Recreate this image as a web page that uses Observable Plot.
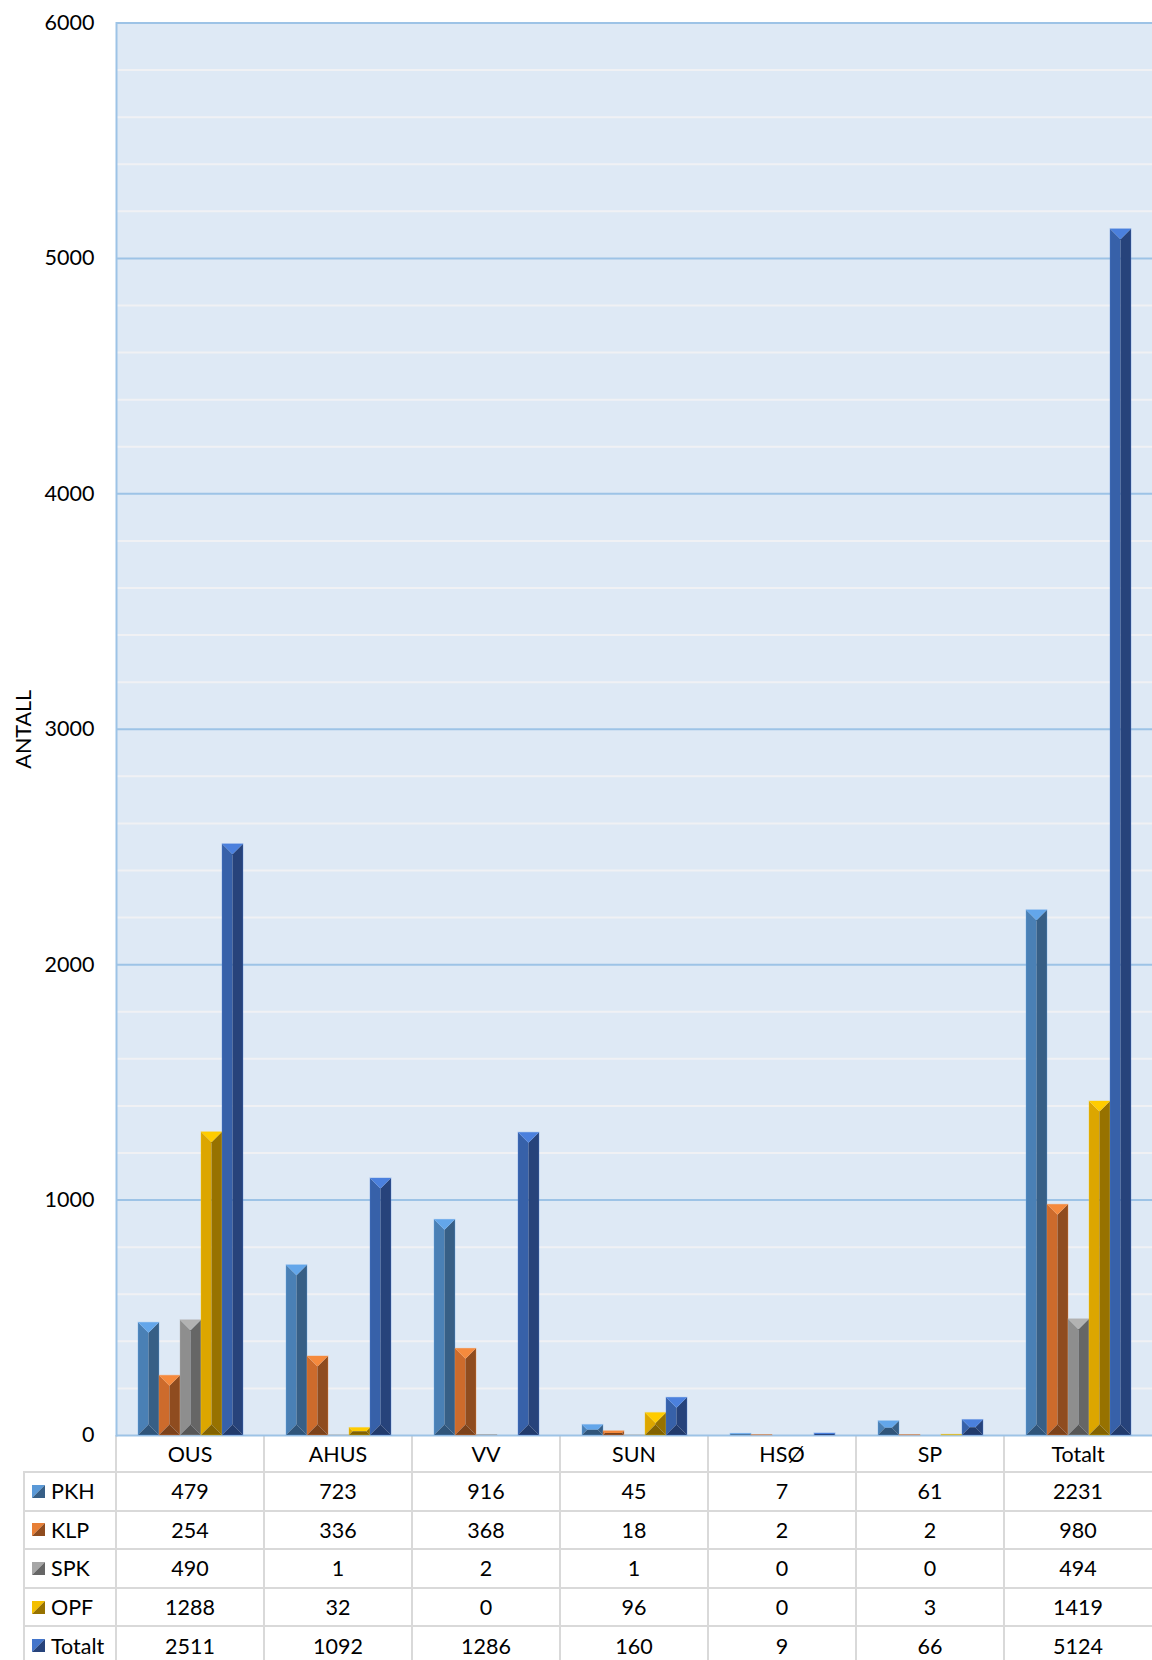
<!DOCTYPE html>
<html>
<head>
<meta charset="utf-8">
<script src="https://cdn.jsdelivr.net/npm/d3@7"></script>
<script src="https://cdn.jsdelivr.net/npm/@observablehq/plot@0.6"></script>
<style>
  html, body { margin: 0; padding: 0; background: #fff; }
  #wrap { position: relative; width: 1152px; height: 1660px; overflow: hidden; font-family: Lato, "Open Sans", sans-serif; color: #000; }
  #wrap > svg { display: block; overflow: visible; position: relative; z-index: 2; }
  .cell { position: absolute; display: flex; align-items: center; justify-content: center; font-size: 21.5px; color: #000; white-space: nowrap; }
  .line { position: absolute; background: #d9d9d9; }
  .leg { justify-content: flex-start; }
  .leg svg { margin-left: 8px; margin-right: 6px; }
</style>
</head>
<body>
<div id="wrap"></div>
<script>
// ---- data ----
const categories = ["OUS", "AHUS", "VV", "SUN", "HSØ", "SP", "Totalt"];
const seriesNames = ["PKH", "KLP", "SPK", "OPF", "Totalt"];
const PKH    = [479, 723, 916, 45, 7, 61, 2231];
const KLP    = [254, 336, 368, 18, 2, 2, 980];
const SPK    = [490, 1, 2, 1, 0, 0, 494];
const OPF    = [1288, 32, 0, 96, 0, 3, 1419];
const Totalt = [2511, 1092, 1286, 160, 9, 66, 5124];
const yTicks = [0, 1000, 2000, 3000, 4000, 5000, 6000];
const yMinor = [200, 400, 600, 800, 1200, 1400, 1600, 1800, 2200, 2400, 2600, 2800, 3200, 3400, 3600, 3800, 4200, 4400, 4600, 4800, 5200, 5400, 5600, 5800];
const yLabel = "ANTALL";

// ---- styles (bevelled bar faces) ----
const faceTop    = ["#63a6ea", "#f58a3d", "#b2b2b2", "#ffcc00", "#4b80dd"];
const faceLeft   = ["#4a80b5", "#cd6b2c", "#8e8e8e", "#dca600", "#3761a9"];
const faceRight  = ["#375f86", "#8f4c1f", "#666666", "#977200", "#27437b"];
const faceBottom = ["#30557a", "#7c421b", "#575757", "#836300", "#223b6c"];

const seriesValues = [PKH, KLP, SPK, OPF, Totalt];
const data = [];
categories.forEach((c, ci) => {
  seriesNames.forEach((s, si) => {
    data.push({category: c, series: s, value: seriesValues[si][ci]});
  });
});

function bevel(I, scales, V) {
  const bw = scales.x.bandwidth();
  const g = d3.create("svg:g");
  for (const i of I) {
    const si = seriesNames.indexOf(data[i].series);
    const x0 = V.x[i], x1 = x0 + bw;
    const yT = Math.min(V.y1[i], V.y2[i]), yB = Math.max(V.y1[i], V.y2[i]);
    const h = yB - yT;
    if (!(h > 0)) continue;
    const b = Math.min(bw, h) / 2;
    const poly = (pts, fill) => g.append("polygon").attr("points", pts.map(p => p.join(",")).join(" ")).attr("fill", fill);
    poly([[x0, yT], [x0 + b, yT + b], [x0 + b, yB - b], [x0, yB]], faceLeft[si]);
    poly([[x1, yT], [x1 - b, yT + b], [x1 - b, yB - b], [x1, yB]], faceRight[si]);
    poly([[x0 + b, yT + b], [x1 - b, yT + b], [x1 - b, yB - b], [x0 + b, yB - b]], faceLeft[si]);
    poly([[x0, yT], [x1, yT], [x1 - b, yT + b], [x0 + b, yT + b]], faceTop[si]);
    poly([[x0, yB], [x1, yB], [x1 - b, yB - b], [x0 + b, yB - b]], faceBottom[si]);
    g.append("rect").attr("x", x0).attr("y", yT).attr("width", bw).attr("height", h)
      .attr("fill", "none").attr("stroke", faceTop[si]).attr("stroke-opacity", 0.35).attr("stroke-width", 1);
  }
  return g.node();
}

const chart = Plot.plot({
  width: 1152,
  height: 1437,
  marginLeft: 115,
  marginRight: 0,
  marginTop: 22.5,
  marginBottom: 2,
  style: {fontFamily: "Lato, 'Open Sans', sans-serif", fontSize: "21.5px", color: "#000", background: "transparent", overflow: "visible"},
  fx: {domain: categories, paddingInner: 0, paddingOuter: 0, axis: null},
  x: {domain: seriesNames, paddingInner: 0, paddingOuter: 1, axis: null},
  y: {domain: [0, 6000], axis: null},
  marks: [
    Plot.frame({fill: "#dee9f5", stroke: "none", facet: "super"}),
    Plot.ruleY(yMinor, {stroke: "#f0f1f4", strokeWidth: 2}),
    Plot.ruleY(yTicks, {stroke: "#9dc3e6", strokeWidth: 2}),
    Plot.frame({anchor: "left", stroke: "#9dc3e6", strokeWidth: 2, strokeOpacity: 1, facet: "super"}),
    Plot.barY(data, {fx: "category", x: "series", y: "value", render: bevel}),
    Plot.axisY({ticks: yTicks, tickSize: 0, tickPadding: 22, fontSize: 21.5, tickFormat: d => String(d),
      label: yLabel, labelAnchor: "center", labelArrow: "none", labelOffset: 101})
  ]
});
const wrap = document.getElementById("wrap");
wrap.append(chart);

// ---- data table below the chart, aligned with the fx scale ----
const fx = chart.scale("fx");
const ys = chart.scale("y");
const plotBottom = ys.apply(0);
const headerBottom = 1472;
const rowH = 38.6;
const tableLeft = 24;
const catLeft = categories.map(c => fx.apply(c));
const bandW = fx.bandwidth;
const firstCol = catLeft[0];

function addDiv(cls, x, y, w, h, html) {
  const d = document.createElement("div");
  d.className = cls;
  Object.assign(d.style, {left: x + "px", top: y + "px", width: w + "px", height: h + "px"});
  if (html != null) d.innerHTML = html;
  wrap.append(d);
  return d;
}

// header row labels
categories.forEach((c, ci) => addDiv("cell", catLeft[ci], plotBottom, bandW, headerBottom - plotBottom, c));
// rows
seriesNames.forEach((s, si) => {
  const top = headerBottom + si * rowH;
  const sw = `<svg width="13" height="13"><polygon points="0,0 13,0 0,13" fill="${faceTop[si]}"/><polygon points="13,0 13,13 0,13" fill="${faceRight[si]}"/><polygon points="0,0 13,0 0,13" fill="${faceLeft[si]}" fill-opacity="0.35"/></svg>`;
  addDiv("cell leg", tableLeft, top, firstCol - tableLeft, rowH, sw + `<span>${s}</span>`);
  categories.forEach((c, ci) => addDiv("cell", catLeft[ci], top, bandW, rowH, String(seriesValues[si][ci])));
});
// grid lines
for (let k = 0; k < seriesNames.length; k++) {
  addDiv("line", tableLeft, headerBottom + k * rowH - 1, 1152 - tableLeft, 2);
}
addDiv("line", tableLeft - 1, headerBottom - 1, 2, 1660 - headerBottom + 1);
catLeft.forEach((x, ci) => addDiv("line", x - 1, plotBottom, 2, 1660 - plotBottom));
</script>
</body>
</html>
